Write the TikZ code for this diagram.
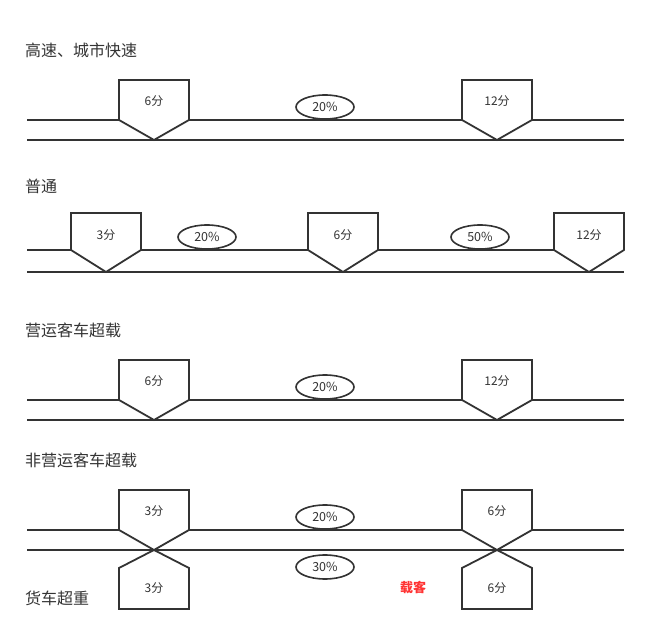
\documentclass[tikz,border=0pt]{standalone}
\usepackage{fontspec}
\setmainfont{Noto Sans CJK SC}
\usetikzlibrary{shapes.geometric}
\definecolor{ink}{HTML}{333333}
\definecolor{warn}{HTML}{FF3333}
\tikzset{
  road/.style={line width=1.8pt, draw=ink},
  sign/.style={road, fill=white, line join=miter},
  rate/.style={ellipse, draw=ink, line width=1.6pt, fill=white, minimum width=58pt,
    minimum height=24pt, inner sep=0pt, text=ink, font=\fontsize{12.5}{14}\selectfont},
  pts/.style={text=ink, inner sep=0pt, font=\fontsize{12}{14}\selectfont},
  title/.style={anchor=west, text=ink, inner sep=0pt, font=\fontsize{16}{18}\selectfont},
}
\begin{document}
\begin{tikzpicture}[x=1pt, y=-1pt]
\useasboundingbox (0,0) rectangle (649,644);

% high-speed roads
\node[title] (hw) at (25,50) {高速、城市快速};
\draw[road] (27,120) -- (624,120);
\draw[road] (27,140) -- (624,140);
\draw[sign] (119,80) -- (189,80) -- (189,120) -- (154,140) -- (119,120) -- cycle;
\draw[sign] (462,80) -- (532,80) -- (532,120) -- (497,140) -- (462,120) -- cycle;
\node[pts] (hw6) at (154,101) {6分};
\node[pts] (hw12) at (497,101) {12分};
\node[rate] (hw20) at (325,107) {20\%};

% ordinary roads
\node[title] (od) at (25,186) {普通};
\draw[road] (27,250) -- (554,250);
\draw[road] (27,272) -- (624,272);
\draw[sign] (71,213) -- (141,213) -- (141,250) -- (106,272) -- (71,250) -- cycle;
\draw[sign] (308,213) -- (378,213) -- (378,250) -- (343,272) -- (308,250) -- cycle;
\draw[sign] (554,213) -- (624,213) -- (624,250) -- (589,272) -- (554,250) -- cycle;
\node[pts] (od3) at (106,235) {3分};
\node[pts] (od6) at (343,235) {6分};
\node[pts] (od12) at (589,235) {12分};
\node[rate] (od20) at (207,237) {20\%};
\node[rate] (od50) at (480,237) {50\%};

% commercial coaches
\node[title] (cc) at (25,330) {营运客车超载};
\draw[road] (27,400) -- (624,400);
\draw[road] (27,420) -- (624,420);
\draw[sign] (119,360) -- (189,360) -- (189,400) -- (154,420) -- (119,400) -- cycle;
\draw[sign] (462,360) -- (532,360) -- (532,400) -- (497,420) -- (462,400) -- cycle;
\node[pts] (cc6) at (154,381) {6分};
\node[pts] (cc12) at (497,381) {12分};
\node[rate] (cc20) at (325,387) {20\%};

% private coaches / trucks
\node[title] (pc) at (25,460) {非营运客车超载};
\node[title] (tk) at (25,598) {货车超重};
\draw[road] (27,530) -- (624,530);
\draw[road] (27,550) -- (624,550);
\draw[sign] (119,490) -- (189,490) -- (189,530) -- (154,550) -- (119,530) -- cycle;
\draw[sign] (462,490) -- (532,490) -- (532,530) -- (497,550) -- (462,530) -- cycle;
\draw[sign] (119,609) -- (189,609) -- (189,568) -- (154,550) -- (119,568) -- cycle;
\draw[sign] (462,609) -- (532,609) -- (532,568) -- (497,550) -- (462,568) -- cycle;
\node[pts] (pc3) at (154,511) {3分};
\node[pts] (pc6) at (497,511) {6分};
\node[pts] (tk3) at (154,588) {3分};
\node[pts] (tk6) at (497,588) {6分};
\node[rate] (pc20) at (325,517) {20\%};
\node[rate] (tk30) at (325,567) {30\%};
\node[text=warn, inner sep=0pt, font=\fontsize{13}{15}\selectfont\bfseries] (pass) at (413,588) {载客};

\end{tikzpicture}
\end{document}
